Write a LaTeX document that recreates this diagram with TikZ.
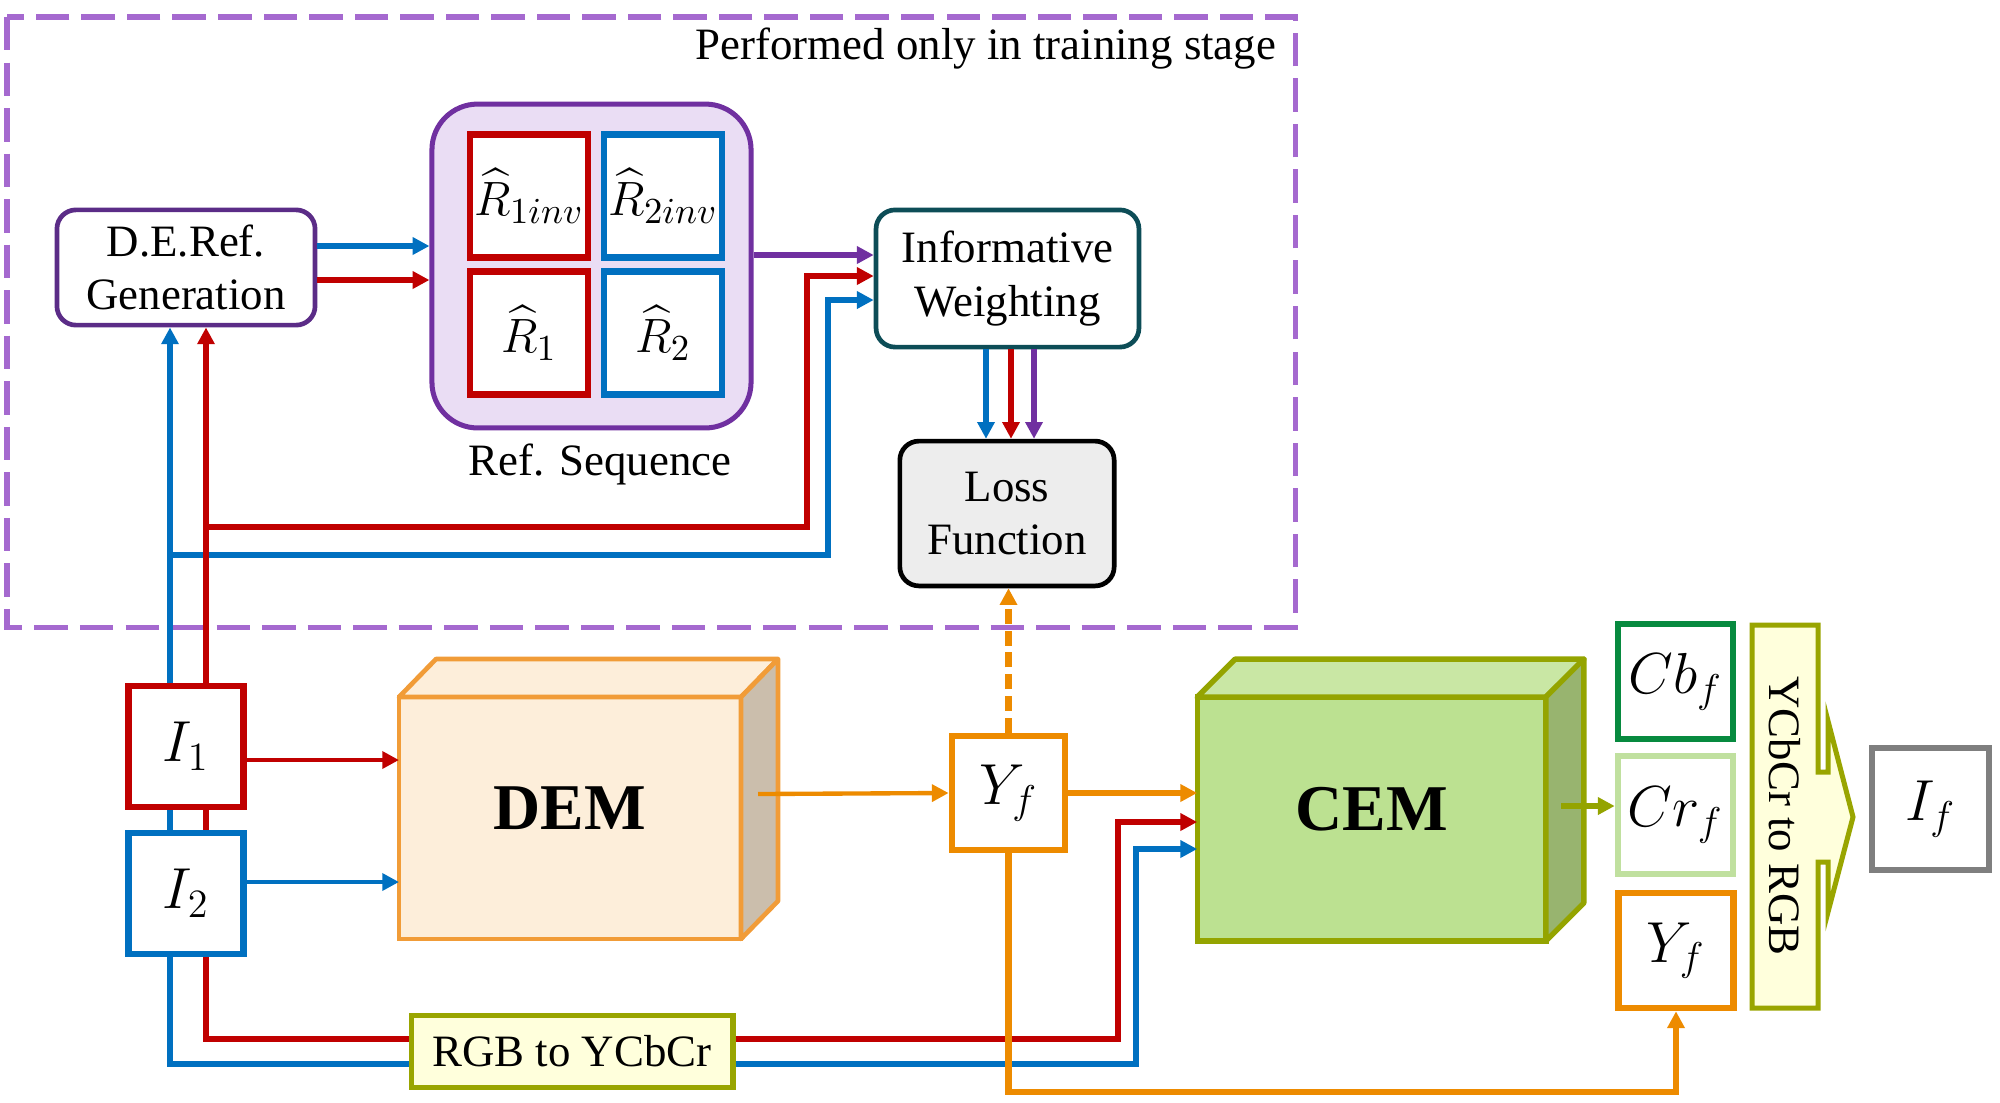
\documentclass[tikz,border=0pt]{standalone}
\usepackage{amsmath}
\usepackage{fontspec}
\setmainfont{Liberation Serif}
\usetikzlibrary{arrows.meta}

\definecolor{myred}{HTML}{C00000}
\definecolor{myblue}{HTML}{0070C0}
\definecolor{mypurple}{HTML}{7030A0}
\definecolor{derpurple}{HTML}{5B2C87}
\definecolor{seqfill}{HTML}{EADDF4}
\definecolor{framepurple}{HTML}{A569CF}
\definecolor{iwteal}{HTML}{0D4D57}
\definecolor{myorange}{HTML}{ED8B00}
\definecolor{demline}{HTML}{F19C38}
\definecolor{demfill}{HTML}{FDEEDA}
\definecolor{demside}{HTML}{CBBEAC}
\definecolor{cemline}{HTML}{94A400}
\definecolor{cemfill}{HTML}{BCE191}
\definecolor{cemtop}{HTML}{C9E7A4}
\definecolor{cemside}{HTML}{98B46F}
\definecolor{rgbfill}{HTML}{FFFFDC}
\definecolor{rgbline}{HTML}{99A500}
\definecolor{cbgreen}{HTML}{078A3F}
\definecolor{crgreen}{HTML}{C0E09F}
\definecolor{ifgray}{HTML}{7F7F7F}
\definecolor{lossfill}{HTML}{EDEDED}

\tikzset{
  txt/.style={font=\fontsize{13.4pt}{16pt}\selectfont},
  mth/.style={font=\fontsize{17pt}{20pt}\selectfont},
  arr/.style={-{Triangle[length=5pt,width=5pt]}},
  roundbox/.style={draw, fill=white, rounded corners=0.2cm, line width=1.4pt,
    align=center, inner sep=0pt, txt},
  seqbox/.style={draw, fill=white, line width=1.9pt, minimum width=1.24cm,
    minimum height=1.29cm, inner sep=0pt, font=\fontsize{15pt}{17pt}\selectfont},
  imgbox/.style={draw, fill=white, line width=1.9pt, minimum width=1.21cm,
    minimum height=1.21cm, inner sep=0pt, mth},
  cube/.style={draw, line width=1.4pt, outer sep=0pt, inner sep=0pt,
    text depth=0.21cm, font=\fontsize{19.5pt}{22pt}\selectfont\bfseries},
  link/.style={line width=1.8pt, arr},
  feed/.style={line width=1.4pt, arr},
}

\begin{document}
\begin{tikzpicture}[x=0.0105cm, y=-0.0105cm]

  \useasboundingbox (0,0) rectangle (2000,1102);

  % training part
  \draw[framepurple, line width=1.5pt, dash pattern=on 10pt off 3.6pt]
    (7,17) rectangle (1295,627);
  \node[txt, anchor=east] (stage) at (1288,49) {Performed only in training stage};

  \node[roundbox, draw=derpurple, minimum width=2.71cm, minimum height=1.21cm]
    (derg) at (186,267.5) {D.E.Ref.\\Generation};
  \node[draw=mypurple, fill=seqfill, line width=1.5pt, rounded corners=0.48cm,
    minimum width=3.35cm, minimum height=3.4cm] (refseq) at (591.5,266) {};
  \node[seqbox, draw=myred] (r1inv) at (529,196) {$\widehat{R}_{1inv}$};
  \node[seqbox, draw=myblue] (r2inv) at (663,196) {$\widehat{R}_{2inv}$};
  \node[seqbox, draw=myred] (r1) at (529,333) {$\widehat{R}_1$};
  \node[seqbox, draw=myblue] (r2) at (663,333) {$\widehat{R}_2$};
  \node[txt] (seqlabel) at (600,464) {Ref. Sequence};

  \node[roundbox, draw=iwteal, minimum width=2.76cm, minimum height=1.44cm]
    (iw) at (1007.5,278.5) {Informative\\Weighting};
  \node[roundbox, draw=black, fill=lossfill, minimum width=2.25cm, minimum height=1.52cm]
    (loss) at (1007,513.5) {Loss\\Function};

  % inputs and DEM
  \node[imgbox, draw=myred, minimum height=1.27cm] (i1) at (186,746.5) {$I_1$};
  \node[imgbox, draw=myblue, minimum height=1.27cm] (i2) at (186,893.5) {$I_2$};

  \node[cube, draw=demline, fill=demfill, minimum width=3.59cm, minimum height=2.54cm]
    (dem) at (570,818) {DEM};
  \filldraw[draw=demline, fill=demfill, line width=1.4pt, line join=round]
    (dem.north west) -- ++(37,-38) -- ++(342,0) -- (dem.north east) -- cycle;
  \filldraw[draw=demline, fill=demside, line width=1.4pt, line join=round]
    (dem.north east) -- ++(37,-38) -- ++(0,242) -- (dem.south east) -- cycle;

  \node[imgbox, draw=myorange, minimum width=1.19cm, minimum height=1.2cm]
    (yf) at (1008.5,793) {$Y_f$};
  \node[draw=rgbline, fill=rgbfill, line width=1.5pt, minimum width=3.38cm,
    minimum height=0.75cm, inner sep=0pt, txt] (rgb) at (572,1051.5) {RGB to YCbCr};

  % CEM and outputs
  \node[cube, draw=cemline, fill=cemfill, line width=1.6pt, minimum width=3.66cm,
    minimum height=2.56cm] (cem) at (1371.5,819) {CEM};
  \filldraw[draw=cemline, fill=cemtop, line width=1.6pt, line join=round]
    (cem.north west) -- ++(38,-38) -- ++(349,0) -- (cem.north east) -- cycle;
  \filldraw[draw=cemline, fill=cemside, line width=1.6pt, line join=round]
    (cem.north east) -- ++(38,-38) -- ++(0,244) -- (cem.south east) -- cycle;

  \node[imgbox, draw=cbgreen] (cb) at (1675.5,681.5) {$Cb_f$};
  \node[imgbox, draw=crgreen, minimum height=1.24cm] (cr) at (1675.5,815) {$Cr_f$};
  \node[imgbox, draw=myorange] (yf2) at (1676,950.5) {$Y_f$};
  \node[imgbox, draw=ifgray, minimum width=1.23cm, minimum height=1.28cm]
    (if) at (1930.5,809) {$I_f$};

  \filldraw[draw=rgbline, fill=rgbfill, line width=1.5pt]
    (1752,625) -- (1818,625) -- (1818,772) -- (1828,772) -- (1828,721)
    -- (1853,817) -- (1828,912) -- (1828,862) -- (1818,862) -- (1818,1008)
    -- (1752,1008) -- cycle;
  \node[txt, rotate=-90] (conv) at (1785,816) {YCbCr to RGB};

  \coordinate (demout) at (758,794);
  \coordinate (cemout) at (1561,806);

  % connectors
  \draw[link, myblue] (derg.east |- 0,246) -- (refseq.west |- 0,246);
  \draw[link, myred] (derg.east |- 0,280) -- (refseq.west |- 0,280);
  \draw[link, mypurple] (refseq.east |- 0,255) -- (iw.west |- 0,255);

  \draw[link, myblue] (i1.north -| 170,0) -- (derg.south -| 170,0);
  \draw[link, myblue] (i1.north -| 170,0) |- (828,555) |- (iw.west |- 0,300);
  \draw[link, myred] (i1.north -| 206,0) -- (derg.south -| 206,0);
  \draw[link, myred] (i1.north -| 206,0) |- (807,527) |- (iw.west |- 0,276);

  \draw[link, line width=2pt, myblue] (iw.south -| 986,0) -- (loss.north -| 986,0);
  \draw[link, line width=2pt, myred] (iw.south -| 1011,0) -- (loss.north -| 1011,0);
  \draw[link, line width=2pt, mypurple] (iw.south -| 1034,0) -- (loss.north -| 1034,0);

  \draw[myblue, line width=1.8pt] (i2.north -| 170,0) -- (i1.south -| 170,0);
  \draw[myred, line width=1.8pt] (i1.south -| 206,0) -- (i2.north -| 206,0);
  \draw[feed, myred] (i1.east |- 0,760) -- (dem.west |- 0,760);
  \draw[feed, myblue] (i2.east |- 0,882) -- (dem.west |- 0,882);

  \draw[myred, line width=1.8pt] (i2.south -| 206,0) |- (rgb.west |- 0,1039);
  \draw[myblue, line width=1.8pt] (i2.south -| 170,0) |- (rgb.west |- 0,1064);
  \draw[link, myred] (rgb.east |- 0,1039) -| (1118,822) -- (cem.west |- 0,822);
  \draw[link, myblue] (rgb.east |- 0,1064) -| (1136,849) -- (cem.west |- 0,849);

  \draw[feed, line width=1.3pt, myorange] (demout) -- (yf.west);
  \draw[link, line width=2pt, myorange] (yf.east) -- (yf.east -| cem.west);
  \draw[link, line width=2pt, myorange, dash pattern=on 4.5pt off 2pt]
    (yf.north) -- (yf.north |- loss.south);
  \draw[link, myorange] (yf.south) |- (yf2.south |- 0,1092) -- (yf2.south);
  \draw[link, cemline] (cemout) -- (cr.west |- cemout);

\end{tikzpicture}
\end{document}
